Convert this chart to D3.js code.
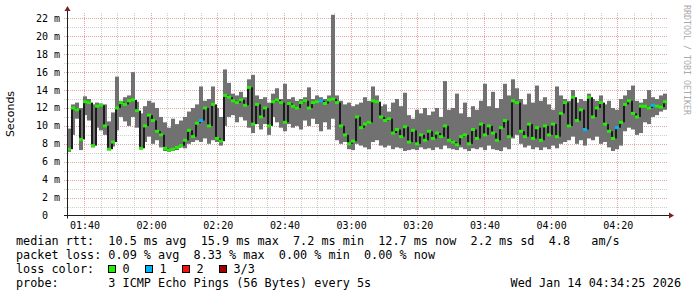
<!DOCTYPE html>
<html>
<head>
<meta charset="utf-8">
<script src="https://cdn.jsdelivr.net/npm/d3@7"></script>
<style>
  body { margin: 0; background: #fff; }
  svg { display: block; }
  text { white-space: pre; }
</style>
</head>
<body>
<svg id="chart"></svg>
<script>
// smokeping samples, one every 72 s starting 01:34:55 (ms)
const pingMin = [
  7.1, 9.0, 10.8, 7.3, 11.2, 10.6, 7.6, 9.8, 9.5, 9.0,
  7.3, 7.7, 9.5, 11.0, 10.5, 10.0, 11.0, 9.8, 7.4, 8.2,
  8.8, 8.0, 8.4, 7.6, 7.2, 7.1, 7.2, 7.3, 7.6, 7.5,
  8.0, 8.2, 8.4, 8.2, 8.6, 8.0, 8.4, 8.2, 7.8, 10.0,
  11.0, 11.2, 10.4, 11.0, 10.6, 9.8, 9.2, 10.2, 9.6, 10.2,
  9.0, 11.0, 10.4, 9.8, 9.4, 10.2, 9.8, 10.0, 9.6, 10.6,
  10.0, 10.8, 10.2, 9.4, 10.4, 9.6, 10.8, 8.4, 8.0, 8.2,
  7.4, 7.3, 8.0, 7.8, 7.6, 7.4, 8.2, 8.4, 7.8, 7.6,
  7.8, 7.4, 7.6, 7.5, 7.2, 7.3, 7.4, 7.3, 7.6, 7.4,
  7.5, 7.3, 7.6, 7.4, 7.8, 7.5, 7.4, 7.3, 7.6, 7.4,
  7.2, 7.5, 7.4, 7.6, 7.3, 7.8, 7.4, 7.3, 7.2, 7.6,
  7.4, 8.6, 9.0, 8.0, 7.6, 7.8, 7.4, 7.6, 7.3, 7.6,
  7.4, 7.8, 7.5, 8.0, 8.2, 8.4, 8.8, 8.0, 8.4, 7.8,
  8.6, 8.4, 8.8, 8.0, 8.2, 7.6, 7.2, 7.4, 7.8, 9.4,
  9.8, 9.6, 9.0, 9.2, 10.4, 10.2, 11.0, 11.2, 11.6, 11.8
];
const pingMax = [
  9.7, 12.4, 12.6, 12.0, 13.3, 13.0, 12.4, 12.6, 12.5, 12.4,
  10.5, 11.5, 15.5, 12.8, 13.2, 13.4, 16.0, 12.7, 11.4, 12.2,
  12.8, 12.6, 12.0, 11.0, 10.4, 9.8, 10.8, 10.2, 10.6, 11.0,
  11.6, 12.0, 12.4, 14.4, 12.8, 13.0, 14.4, 12.0, 11.0, 16.3,
  14.8, 13.6, 13.4, 13.8, 13.2, 15.2, 15.7, 13.4, 13.0, 13.2,
  12.6, 13.6, 14.2, 13.0, 14.7, 13.0, 13.2, 12.8, 13.0, 13.2,
  14.3, 13.0, 13.4, 13.2, 13.0, 13.4, 22.4, 13.4, 12.8, 12.4,
  12.6, 12.2, 12.4, 12.6, 13.2, 12.8, 14.4, 13.4, 12.2, 12.4,
  11.6, 12.6, 13.0, 12.2, 13.7, 11.2, 10.8, 11.8, 11.4, 12.0,
  11.2, 11.6, 12.0, 11.0, 15.0, 11.8, 12.0, 13.6, 11.4, 12.6,
  11.0, 12.2, 11.8, 12.8, 14.7, 12.2, 13.8, 12.0, 13.0, 14.7,
  13.4, 15.2, 14.2, 13.0, 12.4, 13.6, 12.6, 14.5, 12.8, 13.2,
  12.4, 11.8, 14.4, 13.4, 13.0, 12.8, 14.0, 12.6, 13.0, 12.8,
  13.6, 13.0, 12.8, 13.4, 12.4, 12.8, 12.0, 11.8, 13.0, 13.4,
  14.0, 14.5, 12.8, 12.6, 13.0, 14.0, 13.2, 13.0, 13.4, 13.6
];
const pingMedian = [
  7.4, 12.0, 11.8, 8.5, 12.7, 12.6, 7.8, 12.2, 12.3, 10.0,
  7.4, 8.2, 12.0, 12.6, 12.4, 12.8, 12.9, 11.7, 7.5, 10.0,
  11.2, 10.6, 9.4, 9.0, 7.5, 7.3, 7.4, 7.6, 7.8, 8.4,
  9.5, 8.8, 10.3, 10.6, 12.0, 10.0, 12.4, 8.6, 8.3, 13.4,
  13.2, 12.8, 12.6, 12.9, 12.3, 14.3, 10.2, 12.4, 11.0, 12.0,
  10.0, 12.7, 12.9, 12.6, 10.4, 12.5, 12.2, 12.0, 12.6, 12.8,
  12.0, 12.6, 12.7, 12.8, 12.5, 12.9, 13.0, 12.6, 10.0, 9.0,
  8.0, 8.3, 11.0, 9.8, 10.2, 10.4, 12.8, 12.7, 11.0, 10.6,
  10.8, 9.2, 9.6, 8.8, 9.9, 8.2, 9.5, 8.0, 9.0, 8.4,
  9.4, 8.6, 9.2, 8.8, 10.0, 8.4, 8.2, 7.9, 8.8, 9.0,
  8.0, 9.6, 8.6, 10.2, 9.0, 10.0, 9.2, 8.4, 9.8, 10.6,
  8.8, 12.8, 12.6, 9.4, 8.8, 10.2, 8.6, 9.8, 8.4, 10.0,
  9.0, 10.2, 8.8, 11.4, 12.6, 10.0, 13.2, 10.6, 11.8, 9.6,
  13.2, 11.0, 12.0, 12.6, 10.2, 9.4, 8.6, 9.8, 10.4, 12.4,
  12.8, 11.4, 11.0, 12.2, 12.2, 12.0, 12.3, 12.2, 12.1, 12.7
];
// lost pings out of 3 per sample
const pingLoss = [
  0, 0, 0, 0, 0, 0, 0, 0, 0, 0,
  0, 0, 0, 0, 0, 0, 0, 0, 0, 0,
  0, 0, 0, 0, 0, 0, 0, 0, 0, 0,
  0, 0, 0, 1, 0, 0, 0, 0, 0, 0,
  0, 0, 0, 0, 0, 0, 0, 0, 0, 0,
  0, 0, 0, 0, 0, 0, 0, 0, 0, 0,
  0, 0, 0, 1, 0, 0, 0, 0, 0, 0,
  0, 0, 0, 0, 0, 0, 0, 0, 0, 0,
  0, 0, 0, 0, 0, 0, 0, 0, 0, 0,
  0, 0, 0, 0, 0, 0, 0, 0, 0, 0,
  0, 0, 0, 0, 0, 0, 0, 0, 0, 0,
  0, 0, 0, 0, 0, 0, 0, 0, 0, 0,
  0, 0, 0, 0, 0, 0, 0, 0, 0, 1,
  0, 0, 0, 0, 0, 0, 0, 1, 0, 0,
  0, 0, 0, 0, 0, 0, 1, 0, 0, 0
];
const yTicks = [0, 2, 4, 6, 8, 10, 12, 14, 16, 18, 20, 22];
const lossLabels = ["0", "1", "2", "3/3"];
const legendRows = [
  "median rtt:  10.5 ms avg  15.9 ms max  7.2 ms min  12.7 ms now  2.2 ms sd  4.8   am/s",
  "packet loss: 0.09 % avg  8.33 % max  0.00 % min  0.00 % now",
  "loss color:",
  "probe:       3 ICMP Echo Pings (56 Bytes) every 5s"
];
const stampText = "Wed Jan 14 04:34:25 2026";

const lossColors = ["#20f000", "#00b4f8", "#f81010", "#a00000"];
const mono = "'DejaVu Sans Mono', monospace";

function drawChart() {
    const W = 697, H = 297;
    const left = 67, right = 667, top = 13, bottom = 215.5;
    const step = 72 * 1000;
    const t0 = Date.UTC(2026, 0, 14, 1, 34, 55);
    const times = pingMedian.map((_, i) => new Date(t0 + i * step));
    const tEnd = new Date(t0 + pingMedian.length * step);

    const svg = d3.select("#chart").attr("width", W).attr("height", H);
    svg.append("rect").attr("width", W).attr("height", H).attr("fill", "#fff");

    const x = d3.scaleUtc().domain([new Date(t0), tEnd]).range([left, right]);
    const y = d3.scaleLinear().domain([0, 22.6]).range([bottom, top]);

    //grid
    const grid = svg.append("g").attr("stroke-dasharray", "1,1").attr("stroke-width", 1);
    const minorY = d3.range(1, 23);
    grid.selectAll(".gy").data(minorY).enter().append("line")
        .attr("x1", left - 3).attr("x2", right)
        .attr("y1", d => Math.round(y(d)) + 0.5).attr("y2", d => Math.round(y(d)) + 0.5)
        .attr("stroke", d => d % 2 === 0 ? "#e6a3a3" : "#cfcfcf");
    const minorX = x.ticks(d3.utcMinute.every(5));
    grid.selectAll(".gx").data(minorX).enter().append("line")
        .attr("x1", d => Math.round(x(d)) + 0.5).attr("x2", d => Math.round(x(d)) + 0.5)
        .attr("y1", top).attr("y2", bottom + 3)
        .attr("stroke", d => d.getUTCMinutes() % 20 === 0 ? "#e6a3a3" : "#cfcfcf");

    //smoke
    const plot = svg.append("g");
    plot.selectAll(".smoke").data(times).enter().append("rect")
        .attr("x", (d, i) => x(d))
        .attr("width", (d, i) => x(new Date(+d + step)) - x(d))
        .attr("y", (d, i) => y(pingMax[i]))
        .attr("height", (d, i) => y(pingMin[i]) - y(pingMax[i]))
        .attr("fill", "#717171");

    //dark links between medians
    plot.selectAll(".link").data(times.slice(1)).enter().append("rect")
        .attr("x", d => x(d))
        .attr("width", 2)
        .attr("y", (d, i) => y(Math.max(pingMedian[i], pingMedian[i + 1])))
        .attr("height", (d, i) => Math.abs(y(pingMedian[i]) - y(pingMedian[i + 1])))
        .attr("fill", "#1c1c1c");

    //median marks coloured by loss
    plot.selectAll(".med").data(times).enter().append("rect")
        .attr("x", d => x(d))
        .attr("width", d => x(new Date(+d + step)) - x(d))
        .attr("y", (d, i) => y(pingMedian[i]) - 1.5)
        .attr("height", 3)
        .attr("fill", (d, i) => lossColors[pingLoss[i]]);

    //axes
    svg.append("line").attr("x1", left + 0.5).attr("x2", left + 0.5)
        .attr("y1", bottom + 3).attr("y2", top - 2).attr("stroke", "#1f1f1f");
    svg.append("line").attr("x1", left - 3).attr("x2", right + 2)
        .attr("y1", bottom).attr("y2", bottom).attr("stroke", "#1f1f1f");
    svg.append("path").attr("d", `M${left - 2.5},${top - 2} L${left + 3.5},${top - 2} L${left + 0.5},${top - 7} Z`)
        .attr("fill", "#7f1f1f");
    svg.append("path").attr("d", `M${right + 2},${bottom - 3} L${right + 2},${bottom + 3} L${right + 7},${bottom} Z`)
        .attr("fill", "#7f1f1f");

    //y tick labels
    svg.selectAll(".ylab").data(yTicks).enter().append("text")
        .attr("x", d => d === 0 ? 48 : 60)
        .attr("y", d => y(d))
        .attr("dy", "0.35em")
        .attr("text-anchor", "end")
        .style("font-family", mono).style("font-size", "10px").attr("fill", "#000")
        .text(d => d === 0 ? "0" : d + " m");

    //x tick labels
    const majorX = x.ticks(d3.utcMinute.every(20));
    svg.selectAll(".xlab").data(majorX).enter().append("text")
        .attr("x", d => x(d) + 1)
        .attr("y", 229)
        .attr("text-anchor", "middle")
        .style("font-family", mono).style("font-size", "10px").attr("fill", "#000")
        .text(d => d3.utcFormat("%H:%M")(d));

    //axis title
    svg.append("text")
        .attr("transform", "translate(14,114) rotate(-90)")
        .attr("text-anchor", "middle")
        .style("font-family", "'DejaVu Sans', sans-serif").style("font-size", "11px")
        .attr("fill", "#000")
        .text("Seconds");

    //watermark
    svg.append("text")
        .attr("transform", "translate(684,5) rotate(90)")
        .style("font-family", mono).style("font-size", "8.3px")
        .attr("fill", "#aaa")
        .text("RRDTOOL / TOBI OETIKER");

    //legend
    const rowY = [245, 259, 272.5, 286.5];
    svg.selectAll(".leg").data(legendRows).enter().append("text")
        .attr("x", 16)
        .attr("y", (d, i) => rowY[i])
        .attr("xml:space", "preserve")
        .style("font-family", mono).style("font-size", "11.8px").attr("fill", "#000")
        .text(d => d);

    const boxes = svg.selectAll(".lbox").data(lossLabels).enter().append("g")
        .attr("transform", (d, i) => `translate(${108.5 + i * 37},265.5)`);
    boxes.append("rect").attr("width", 7).attr("height", 7)
        .attr("fill", (d, i) => lossColors[i]).attr("stroke", "#000");
    boxes.append("text").attr("x", 14).attr("y", 7)
        .style("font-family", mono).style("font-size", "11.8px").attr("fill", "#000")
        .text(d => d);

    svg.append("text")
        .attr("x", 681).attr("y", rowY[3])
        .attr("text-anchor", "end")
        .style("font-family", mono).style("font-size", "11.8px").attr("fill", "#000")
        .text(stampText);
}

drawChart();
</script>
</body>
</html>
